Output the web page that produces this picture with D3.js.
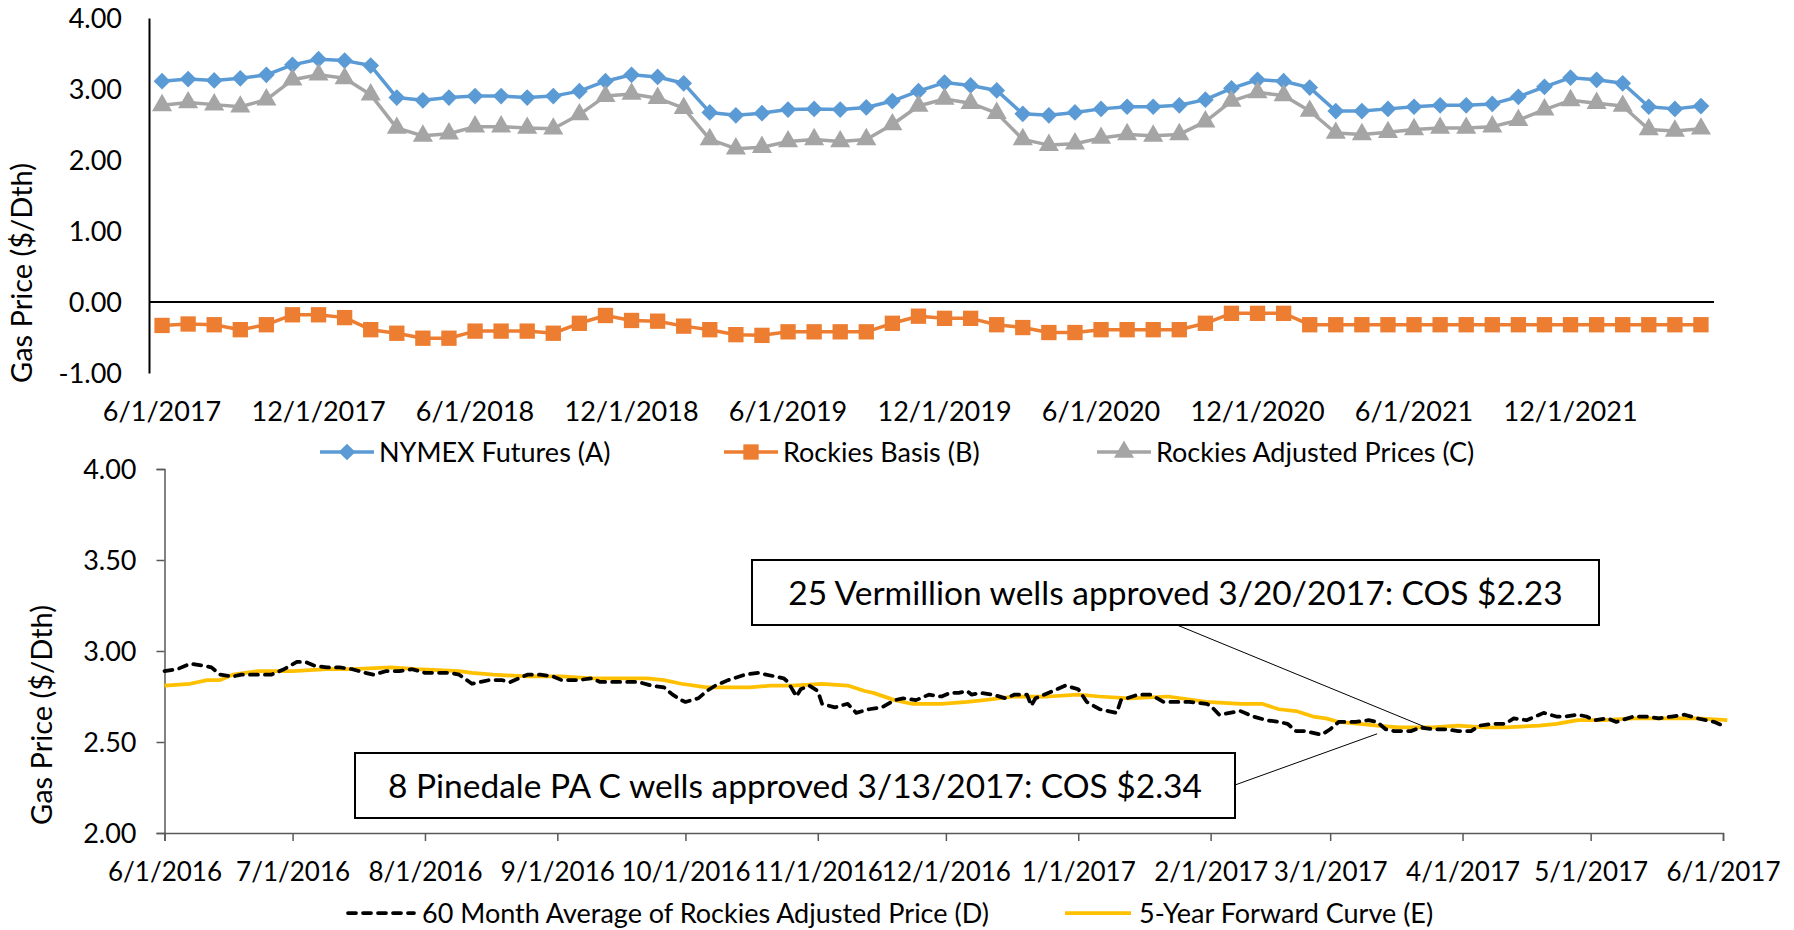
<!DOCTYPE html>
<html>
<head>
<meta charset="utf-8">
<title>Gas price</title>
<script src="https://d3js.org/d3.v7.min.js"></script>
<style>
  body { margin: 0; background: #fff; }
  text { font-family: Lato, "Open Sans", sans-serif; fill: #000; }
</style>
</head>
<body>
<svg width="1794" height="930"></svg>
<script>
// ---------- top chart data (monthly, 6/1/2017 .. 5/1/2022)
var months = d3.timeMonth.range(new Date(2017, 5, 1), new Date(2022, 5, 1));
var nymex = [3.11, 3.14, 3.12, 3.15, 3.20, 3.34, 3.42, 3.40, 3.33, 2.88,
             2.84, 2.88, 2.90, 2.90, 2.88, 2.90, 2.97, 3.11, 3.20, 3.17,
             3.08, 2.67, 2.63, 2.66, 2.71, 2.72, 2.71, 2.74, 2.83, 2.97,
             3.09, 3.05, 2.98, 2.65, 2.63, 2.67, 2.72, 2.75, 2.75, 2.77,
             2.85, 3.01, 3.13, 3.11, 3.02, 2.69, 2.69, 2.72, 2.75, 2.77,
             2.77, 2.79, 2.89, 3.03, 3.16, 3.13, 3.08, 2.75, 2.72, 2.76];
var basis = [-0.33, -0.31, -0.32, -0.39, -0.32, -0.18, -0.18, -0.22, -0.39, -0.44,
             -0.51, -0.51, -0.41, -0.41, -0.41, -0.44, -0.30, -0.19, -0.26, -0.27,
             -0.34, -0.39, -0.46, -0.47, -0.42, -0.42, -0.42, -0.42, -0.30, -0.20,
             -0.23, -0.23, -0.32, -0.36, -0.43, -0.43, -0.39, -0.39, -0.39, -0.39,
             -0.30, -0.16, -0.16, -0.16, -0.32, -0.32, -0.32, -0.32, -0.32, -0.32,
             -0.32, -0.32, -0.32, -0.32, -0.32, -0.32, -0.32, -0.32, -0.32, -0.32];
var adjusted = [2.77, 2.81, 2.78, 2.75, 2.85, 3.13, 3.20, 3.15, 2.92, 2.45,
                2.34, 2.37, 2.47, 2.47, 2.45, 2.44, 2.64, 2.90, 2.93, 2.87,
                2.73, 2.29, 2.16, 2.18, 2.26, 2.29, 2.26, 2.29, 2.50, 2.76,
                2.86, 2.80, 2.66, 2.29, 2.21, 2.23, 2.31, 2.36, 2.34, 2.36,
                2.54, 2.83, 2.95, 2.91, 2.69, 2.38, 2.36, 2.39, 2.43, 2.45,
                2.45, 2.47, 2.56, 2.71, 2.84, 2.80, 2.76, 2.43, 2.41, 2.44];
var topXTicks = ["6/1/2017", "12/1/2017", "6/1/2018", "12/1/2018", "6/1/2019",
                 "12/1/2019", "6/1/2020", "12/1/2020", "6/1/2021", "12/1/2021"];
var topYTicks = [-1, 0, 1, 2, 3, 4];

// ---------- bottom chart data (daily readings, 6/1/2016 .. 6/1/2017)
var avgDates = ["6/1/2016", "6/4/2016", "6/7/2016", "6/10/2016", "6/12/2016", "6/14/2016", "6/17/2016", "6/19/2016",
  "6/23/2016", "6/26/2016", "6/29/2016", "7/2/2016", "7/4/2016", "7/6/2016", "7/9/2016", "7/12/2016", "7/15/2016",
  "7/18/2016", "7/20/2016", "7/23/2016", "7/26/2016", "7/29/2016", "8/1/2016", "8/5/2016", "8/7/2016", "8/9/2016",
  "8/12/2016", "8/14/2016", "8/16/2016", "8/19/2016", "8/21/2016", "8/25/2016", "8/28/2016", "8/31/2016", "9/2/2016",
  "9/6/2016", "9/9/2016", "9/11/2016", "9/14/2016", "9/17/2016", "9/20/2016", "9/23/2016", "9/26/2016", "9/28/2016",
  "9/30/2016", "10/1/2016", "10/4/2016", "10/6/2016", "10/8/2016", "10/11/2016", "10/15/2016", "10/18/2016",
  "10/22/2016", "10/24/2016", "10/25/2016", "10/27/2016", "10/28/2016", "10/30/2016", "11/1/2016", "11/2/2016",
  "11/5/2016", "11/8/2016", "11/10/2016", "11/13/2016", "11/16/2016", "11/19/2016", "11/21/2016", "11/24/2016",
  "11/27/2016", "11/30/2016", "12/2/2016", "12/4/2016", "12/6/2016", "12/7/2016", "12/9/2016", "12/12/2016",
  "12/15/2016", "12/17/2016", "12/20/2016", "12/21/2016", "12/22/2016", "12/24/2016", "12/26/2016", "12/29/2016",
  "1/1/2017", "1/3/2017", "1/6/2017", "1/8/2017", "1/10/2017", "1/11/2017", "1/15/2017", "1/18/2017", "1/21/2017",
  "1/24/2017", "1/27/2017", "1/31/2017", "2/1/2017", "2/3/2017", "2/8/2017", "2/11/2017", "2/14/2017", "2/17/2017",
  "2/19/2017", "2/21/2017", "2/23/2017", "2/27/2017", "3/1/2017", "3/3/2017", "3/7/2017", "3/10/2017", "3/12/2017",
  "3/14/2017", "3/16/2017", "3/20/2017", "3/22/2017", "3/25/2017", "3/28/2017", "3/31/2017", "4/3/2017", "4/5/2017",
  "4/8/2017", "4/11/2017", "4/13/2017", "4/16/2017", "4/18/2017", "4/20/2017", "4/23/2017", "4/25/2017", "4/28/2017",
  "4/30/2017", "5/2/2017", "5/5/2017", "5/7/2017", "5/11/2017", "5/14/2017", "5/17/2017", "5/20/2017", "5/23/2017",
  "5/26/2017", "5/30/2017", "6/1/2017"];
var avgValues = [2.89, 2.90, 2.93, 2.92, 2.91, 2.87, 2.86, 2.87,
  2.87, 2.87, 2.90, 2.94, 2.94, 2.92, 2.91, 2.91, 2.90,
  2.88, 2.87, 2.89, 2.89, 2.90, 2.88, 2.88, 2.88, 2.87,
  2.82, 2.83, 2.84, 2.84, 2.83, 2.87, 2.87, 2.86, 2.84,
  2.84, 2.85, 2.83, 2.83, 2.83, 2.83, 2.81, 2.80, 2.76,
  2.73, 2.72, 2.74, 2.78, 2.81, 2.84, 2.87, 2.88,
  2.86, 2.85, 2.83, 2.75, 2.79, 2.81, 2.78, 2.71,
  2.69, 2.71, 2.66, 2.68, 2.69, 2.73, 2.74, 2.73,
  2.76, 2.75, 2.77, 2.77, 2.78, 2.76, 2.77, 2.76,
  2.74, 2.76, 2.76, 2.70, 2.74, 2.76, 2.78, 2.81,
  2.79, 2.72, 2.68, 2.67, 2.66, 2.73, 2.76, 2.76, 2.72,
  2.72, 2.72, 2.71, 2.70, 2.65, 2.67, 2.64, 2.62, 2.61,
  2.60, 2.56, 2.56, 2.54, 2.57, 2.61, 2.61, 2.62, 2.61,
  2.57, 2.56, 2.56, 2.58, 2.57, 2.57, 2.56, 2.56, 2.59,
  2.60, 2.60, 2.63, 2.62, 2.64, 2.66, 2.64, 2.64, 2.65,
  2.64, 2.62, 2.63, 2.61, 2.64, 2.64, 2.63, 2.64, 2.65,
  2.63, 2.61, 2.59];
var fwdDates = ["6/1/2016", "6/7/2016", "6/11/2016", "6/14/2016", "6/17/2016", "6/23/2016", "7/1/2016", "7/9/2016",
  "7/15/2016", "7/24/2016", "7/30/2016", "8/9/2016", "8/12/2016", "8/17/2016", "8/25/2016", "9/2/2016", "9/9/2016",
  "9/22/2016", "9/26/2016", "9/30/2016", "10/6/2016", "10/10/2016", "10/16/2016", "10/21/2016", "10/26/2016",
  "11/2/2016", "11/8/2016", "11/12/2016", "11/14/2016", "11/19/2016", "11/23/2016", "11/30/2016", "12/6/2016",
  "12/10/2016", "12/17/2016", "12/25/2016", "1/1/2017", "1/6/2017", "1/13/2017", "1/22/2017", "1/31/2017",
  "2/8/2017", "2/13/2017", "2/17/2017", "2/21/2017", "2/25/2017", "2/28/2017", "3/3/2017", "3/8/2017", "3/12/2017",
  "3/17/2017", "3/25/2017", "3/31/2017", "4/6/2017", "4/11/2017", "4/19/2017", "4/23/2017", "4/28/2017", "5/4/2017",
  "5/11/2017", "5/20/2017", "5/26/2017", "6/2/2017"];
var fwdValues = [2.81, 2.82, 2.84, 2.84, 2.87, 2.89, 2.89, 2.90,
  2.90, 2.91, 2.90, 2.89, 2.88, 2.87, 2.86, 2.86, 2.85,
  2.85, 2.84, 2.82, 2.80, 2.80, 2.80, 2.81, 2.81,
  2.82, 2.81, 2.78, 2.77, 2.73, 2.71, 2.71, 2.72,
  2.73, 2.75, 2.75, 2.76, 2.75, 2.74, 2.75, 2.72,
  2.71, 2.71, 2.68, 2.67, 2.64, 2.63, 2.61, 2.60, 2.59,
  2.58, 2.58, 2.59, 2.58, 2.58, 2.59, 2.60, 2.62, 2.62,
  2.63, 2.63, 2.63, 2.62];
var bottomXTicks = ["6/1/2016", "7/1/2016", "8/1/2016", "9/1/2016", "10/1/2016", "11/1/2016", "12/1/2016",
  "1/1/2017", "2/1/2017", "3/1/2017", "4/1/2017", "5/1/2017", "6/1/2017"];
var bottomYTicks = [2.0, 2.5, 3.0, 3.5, 4.0];

var notes = [
  {text: "25 Vermillion wells approved 3/20/2017: COS $2.23", date: "3/24/2017", value: 2.575},
  {text: "8 Pinedale PA C wells approved 3/13/2017: COS $2.34", date: "3/12/2017", value: 2.545}
];

var parse = d3.timeParse("%m/%d/%Y");
var fmt2 = function (d) { return d.toFixed(2); };
var svg = d3.select("svg");
var tickFont = 27, dateFont = 26, legendFont = 27, titleFont = 29, noteFont = 33.5;

// ======================= top chart =======================
var xTop = d3.scaleBand().domain(months).range([149, 1714]),
    yTop = d3.scaleLinear().domain([-1, 4]).range([373, 18]),
    bw = xTop.bandwidth();

var topChart = svg.append("g").attr("class", "top-chart");

var yAxisTop = topChart.append("g").attr("transform", "translate(149,0)")
  .call(d3.axisLeft(yTop).tickValues(topYTicks).tickFormat(fmt2).tickSize(0).tickPadding(27));
yAxisTop.select(".domain").attr("stroke", "#000").attr("stroke-width", 2);
yAxisTop.selectAll("text").attr("font-size", tickFont).attr("font-family", null).attr("dy", "0.36em");

var xAxisTop = topChart.append("g").attr("transform", "translate(0,373)")
  .call(d3.axisBottom(xTop).tickValues(topXTicks.map(parse)).tickSize(0));
xAxisTop.select(".domain").remove();
xAxisTop.selectAll("text").attr("font-size", tickFont).attr("font-family", null)
  .attr("y", 48).attr("dy", null).text(function (d, i) { return topXTicks[i]; });

// zero line
topChart.append("line")
  .attr("x1", 149).attr("x2", 1714)
  .attr("y1", yTop(0)).attr("y2", yTop(0))
  .attr("stroke", "#000").attr("stroke-width", 2);

topChart.append("text")
  .attr("transform", "translate(32,273) rotate(-90)")
  .attr("text-anchor", "middle").attr("font-size", titleFont)
  .text("Gas Price ($/Dth)");

var topSeries = [
  {name: "NYMEX Futures (A)", values: nymex, color: "#5B9BD5", symbol: d3.symbolSquare, size: 140, rotate: 45},
  {name: "Rockies Basis (B)", values: basis, color: "#ED7D31", symbol: d3.symbolSquare, size: 235, rotate: 0},
  {name: "Rockies Adjusted Prices (C)", values: adjusted, color: "#A5A5A5", symbol: d3.symbolTriangle, size: 175, rotate: 0}
];

var lineTop = d3.line()
  .x(function (d, i) { return xTop(months[i]) + bw / 2; })
  .y(function (d) { return yTop(d); });

topSeries.forEach(function (s) {
  var g = topChart.append("g");
  g.append("path").attr("d", lineTop(s.values))
    .attr("fill", "none").attr("stroke", s.color).attr("stroke-width", 3.5)
    .attr("stroke-linejoin", "round");
  g.selectAll("path.mark").data(s.values).enter().append("path").attr("class", "mark")
    .attr("d", d3.symbol(s.symbol, s.size))
    .attr("transform", function (d, i) {
      return "translate(" + (xTop(months[i]) + bw / 2) + "," + yTop(d) + ") rotate(" + s.rotate + ")";
    })
    .attr("fill", s.color);
});

// top legend
var legTopX = [320, 724, 1097];
var legTop = topChart.selectAll("g.leg").data(topSeries).enter().append("g").attr("class", "leg")
  .attr("transform", function (d, i) { return "translate(" + legTopX[i] + ",452)"; });
legTop.append("line").attr("x1", 0).attr("x2", 54)
  .attr("stroke", function (d) { return d.color; }).attr("stroke-width", 3.5);
legTop.append("path").attr("d", function (d) { return d3.symbol(d.symbol, d.size)(); })
  .attr("transform", function (d) { return "translate(27,0) rotate(" + d.rotate + ")"; })
  .attr("fill", function (d) { return d.color; });
legTop.append("text").attr("x", 59).attr("dy", "0.36em").attr("font-size", legendFont)
  .text(function (d) { return d.name; });

// ======================= bottom chart =======================
var xBot = d3.scaleTime().domain([parse("6/1/2016"), parse("6/1/2017")]).range([164.5, 1723]),
    yBot = d3.scaleLinear().domain([2, 4]).range([833, 469]);

var botChart = svg.append("g").attr("class", "bottom-chart");

var yAxisBot = botChart.append("g").attr("transform", "translate(164.5,0)")
  .call(d3.axisLeft(yBot).tickValues(bottomYTicks).tickFormat(fmt2).tickSize(8).tickPadding(20));
var xAxisBot = botChart.append("g").attr("transform", "translate(0,833)")
  .call(d3.axisBottom(xBot).tickValues(bottomXTicks.map(parse)).tickSize(8).tickPadding(20)
    .tickFormat(function (d, i) { return bottomXTicks[i]; }));
[yAxisBot, xAxisBot].forEach(function (a) {
  a.select(".domain").attr("stroke", "#595959").attr("stroke-width", 1.5);
  a.selectAll(".tick line").attr("stroke", "#595959").attr("stroke-width", 1.5);
  a.selectAll("text").attr("font-size", tickFont).attr("font-family", null);
});
yAxisBot.selectAll("text").attr("dy", "0.36em");
xAxisBot.selectAll("text").attr("font-size", dateFont).attr("y", 48).attr("dy", null);

botChart.append("text")
  .attr("transform", "translate(52,715) rotate(-90)")
  .attr("text-anchor", "middle").attr("font-size", titleFont)
  .text("Gas Price ($/Dth)");

var lineBot = d3.line()
  .x(function (d) { return xBot(parse(d[0])); })
  .y(function (d) { return yBot(d[1]); });

var fwd = d3.zip(fwdDates, fwdValues),
    avg = d3.zip(avgDates, avgValues);

botChart.append("path").attr("d", lineBot(fwd))
  .attr("fill", "none").attr("stroke", "#FFC000").attr("stroke-width", 3.75).attr("stroke-linejoin", "round");
botChart.append("path").attr("d", lineBot(avg))
  .attr("fill", "none").attr("stroke", "#000").attr("stroke-width", 3.75)
  .attr("stroke-dasharray", "8,7").attr("stroke-linecap", "round").attr("stroke-linejoin", "round");

// callouts
var boxes = [{x: 752, y: 560, w: 847, h: 65, lx: 1177, ly: 625},
             {x: 355, y: 753, w: 880, h: 65, lx: 1235, ly: 785}];
notes.forEach(function (n, i) {
  var b = boxes[i];
  botChart.append("line")
    .attr("x1", b.lx).attr("y1", b.ly)
    .attr("x2", xBot(parse(n.date))).attr("y2", yBot(n.value))
    .attr("stroke", "#000").attr("stroke-width", 1);
  botChart.append("rect").attr("x", b.x).attr("y", b.y).attr("width", b.w).attr("height", b.h)
    .attr("fill", "#fff").attr("stroke", "#000").attr("stroke-width", 2);
  botChart.append("text").attr("x", b.x + b.w / 2).attr("y", b.y + b.h / 2).attr("dy", "0.36em")
    .attr("text-anchor", "middle").attr("font-size", noteFont).text(n.text);
});

// bottom legend
var legBot = [
  {name: "60 Month Average of Rockies Adjusted Price (D)", x: 346, color: "#000", dash: "8,7"},
  {name: "5-Year Forward Curve (E)", x: 1063, color: "#FFC000", dash: null}
];
var lb = botChart.selectAll("g.leg").data(legBot).enter().append("g").attr("class", "leg")
  .attr("transform", function (d) { return "translate(" + d.x + ",913)"; });
lb.append("line").attr("x1", 2).attr("x2", 68)
  .attr("stroke", function (d) { return d.color; }).attr("stroke-width", 3.75)
  .attr("stroke-dasharray", function (d) { return d.dash; })
  .attr("stroke-linecap", function (d) { return d.dash ? "round" : "butt"; });
lb.append("text").attr("x", 76).attr("dy", "0.36em").attr("font-size", legendFont)
  .text(function (d) { return d.name; });
</script>
</body>
</html>
